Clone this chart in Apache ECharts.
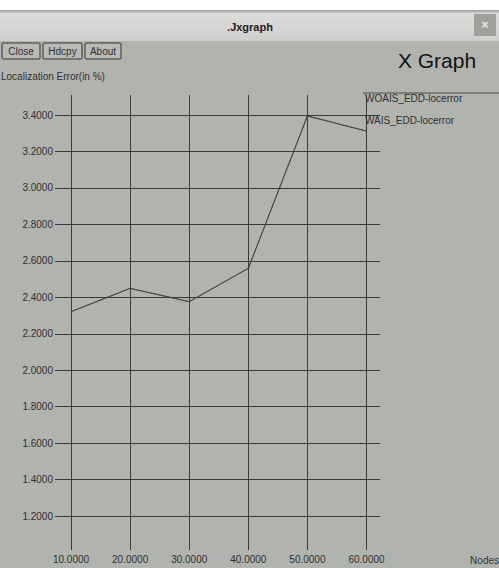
<!DOCTYPE html>
<html>
<head>
<meta charset="utf-8">
<script src="https://cdn.jsdelivr.net/npm/echarts@6/dist/echarts.min.js"></script>
<style>
html,body{margin:0;padding:0;background:#ffffff;}
#chart{width:499px;height:568px;}
</style>
</head>
<body>
<div id="chart"></div>
<script>
// ---- data ----
var nodes = [10, 20, 30, 40, 50, 60];
var woaisLocError = [2.321, 2.449, 2.376, 2.559, 3.395, 3.312];
var waisLocError = [2.321, 2.449, 2.376, 2.559, 3.395, 3.312];
var xTicks = [10, 20, 30, 40, 50, 60];
var yTicks = [1.2, 1.4, 1.6, 1.8, 2.0, 2.2, 2.4, 2.6, 2.8, 3.0, 3.2, 3.4];
var seriesNames = ['WOAIS_EDD-locerror', 'WAIS_EDD-locerror'];
var windowTitle = '.Jxgraph';
var graphTitle = 'X Graph';
var yAxisTitle = 'Localization Error(in %)';
var xAxisTitle = 'Nodes';
var buttons = ['Close', 'Hdcpy', 'About'];

var FONT = '"Liberation Sans", Arial, sans-serif';
var BG = '#b1b4ae';
var INK = '#2e2e2e';

function pairs(xs, ys) { return xs.map(function (x, i) { return [x, ys[i]]; }); }

var gridLines = [];
xTicks.forEach(function (v) { gridLines.push({ xAxis: v }); });
yTicks.forEach(function (v) { gridLines.push({ yAxis: v }); });

var graphics = [
  { type: 'rect', shape: { x: 0, y: 10, width: 499, height: 558 }, style: { fill: BG }, silent: true, z: -10 },
  { type: 'rect', shape: { x: 0, y: 10, width: 499, height: 31 },
    style: { fill: new echarts.graphic.LinearGradient(0, 0, 0, 1, [{ offset: 0, color: '#9c9e9a' }, { offset: 0.12, color: '#dcdcda' }, { offset: 1, color: '#cfd0cd' }]) }, silent: true, z: -9 },
  { type: 'rect', shape: { x: 474, y: 14, width: 22, height: 22 }, style: { fill: '#9ea09c' }, silent: true },
  { type: 'text', x: 485, y: 25, style: { text: '×', fill: '#e8e8e8', font: 'bold 12px ' + FONT, align: 'center', verticalAlign: 'middle' } },
  { type: 'text', x: 250, y: 27, style: { text: windowTitle, fill: '#222', font: 'bold 11px ' + FONT, align: 'center', verticalAlign: 'middle' } },
  { type: 'text', x: 437, y: 60, style: { text: graphTitle, fill: '#111', font: '21px ' + FONT, align: 'center', verticalAlign: 'middle' } },
  { type: 'text', x: 1, y: 76, style: { text: yAxisTitle, fill: INK, font: '10px ' + FONT, align: 'left', verticalAlign: 'middle' } },
  { type: 'text', x: 499, y: 560, style: { text: xAxisTitle, fill: INK, font: '10px ' + FONT, align: 'right', verticalAlign: 'middle' } },
  // legend
  { type: 'line', shape: { x1: 363, y1: 93, x2: 499, y2: 93 }, style: { stroke: '#444', lineWidth: 1 } },
  { type: 'text', x: 365, y: 98, style: { text: seriesNames[0], fill: INK, font: '10px ' + FONT, align: 'left', verticalAlign: 'middle' } },
  { type: 'text', x: 365, y: 120, style: { text: seriesNames[1], fill: INK, font: '10px ' + FONT, align: 'left', verticalAlign: 'middle' } }
];
var bx = [2, 43, 85], bw = [38, 39, 36];
buttons.forEach(function (b, i) {
  graphics.push({ type: 'rect', shape: { x: bx[i], y: 43, width: bw[i], height: 16, r: 1 }, style: { fill: '#b8bab5', stroke: '#333', lineWidth: 1 } });
  graphics.push({ type: 'text', x: bx[i] + bw[i] / 2, y: 51, style: { text: b, fill: INK, font: '10px ' + FONT, align: 'center', verticalAlign: 'middle' } });
});

var chart = echarts.init(document.getElementById('chart'), null, { renderer: 'svg', width: 499, height: 568 });
chart.setOption({
  animation: false,
  backgroundColor: '#ffffff',
  graphic: graphics,
  grid: { left: 55, right: 119, top: 95, bottom: 18, containLabel: false },
  xAxis: {
    type: 'value', min: 7.29, max: 62.28,
    axisLine: { show: false }, axisTick: { show: false }, splitLine: { show: false },
    axisLabel: { customValues: xTicks, formatter: function (v) { return v.toFixed(4); },
      color: INK, fontFamily: FONT, fontSize: 10, margin: 4 }
  },
  yAxis: {
    type: 'value', min: 1.0135, max: 3.51,
    axisLine: { show: false }, axisTick: { show: false }, splitLine: { show: false },
    axisLabel: { customValues: yTicks, formatter: function (v) { return v.toFixed(4); },
      color: INK, fontFamily: FONT, fontSize: 10, margin: 2 }
  },
  series: [
    { name: seriesNames[0], type: 'line', data: pairs(nodes, woaisLocError), symbol: 'none',
      lineStyle: { color: '#4a4a4a', width: 1 }, z: 3,
      markLine: { silent: true, symbol: ['none', 'none'], label: { show: false },
        lineStyle: { color: '#3a3a3a', width: 1, type: 'solid' }, data: gridLines, animation: false } },
    { name: seriesNames[1], type: 'line', data: pairs(nodes, waisLocError), symbol: 'none',
      lineStyle: { color: '#4a4a4a', width: 1 }, z: 3 }
  ]
});
</script>
</body>
</html>
